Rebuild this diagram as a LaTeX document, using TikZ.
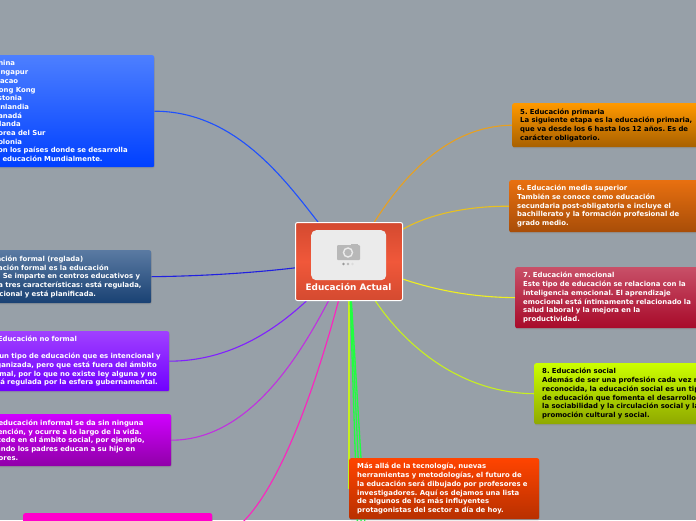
\documentclass[tikz,border=0pt]{standalone}
\usepackage{fontspec}
\setmainfont{DejaVu Sans}
\usetikzlibrary{arrows.meta,positioning,shadows,backgrounds}
\definecolor{mmback}{RGB}{151,160,168}
\definecolor{mmblue}{RGB}{30,80,255}
\definecolor{mmindigo}{RGB}{32,32,224}
\definecolor{mmviolet}{RGB}{128,32,255}
\definecolor{mmplum}{RGB}{192,48,224}
\definecolor{mmpink}{RGB}{255,32,192}
\definecolor{mmamber}{RGB}{232,160,32}
\definecolor{mmgold}{RGB}{232,192,32}
\definecolor{mmyellow}{RGB}{240,240,32}
\definecolor{mmlime}{RGB}{200,240,32}
\definecolor{mmgreen}{RGB}{32,255,64}
\definecolor{mmcoral}{RGB}{240,88,58}
\definecolor{mmcoraldark}{RGB}{212,74,48}
\definecolor{mmslatetop}{RGB}{90,122,162}
\definecolor{mmslatebot}{RGB}{25,65,115}
\definecolor{mmbluetop}{RGB}{77,127,255}
\definecolor{mmbluebot}{RGB}{0,64,255}
\definecolor{mmviolettop}{RGB}{160,64,255}
\definecolor{mmvioletbot}{RGB}{112,0,255}
\definecolor{mmplumtop}{RGB}{208,0,255}
\definecolor{mmplumbot}{RGB}{144,0,168}
\definecolor{mmpinktop}{RGB}{255,0,204}
\definecolor{mmambertop}{RGB}{255,153,0}
\definecolor{mmamberbot}{RGB}{168,96,0}
\definecolor{mmrusttop}{RGB}{232,112,16}
\definecolor{mmrustbot}{RGB}{168,77,8}
\definecolor{mmredtop}{RGB}{200,80,104}
\definecolor{mmredbot}{RGB}{168,10,42}
\definecolor{mmlimetop}{RGB}{204,255,0}
\definecolor{mmlimebot}{RGB}{143,168,0}
\definecolor{mmfiretop}{RGB}{255,68,0}
\definecolor{mmfirebot}{RGB}{184,48,0}
\begin{document}
\frenchspacing
\begin{tikzpicture}[
  x=1pt,y=-1pt,
  topic/.style={anchor=north west,rounded corners=2pt,align=left,inner xsep=8pt,inner ysep=0pt,
                font=\fontsize{6.9}{8.7}\selectfont\bfseries,text=white,
                drop shadow={shadow xshift=0.6pt,shadow yshift=-1.2pt,opacity=0.35}},
  link/.style={line width=1.1pt},
  fan/.style={line width=1.3pt,mmgreen},
]
  \useasboundingbox (0,0) rectangle (696,520);
  \clip (0,0) rectangle (696,520);

  % Central topic
  \node[anchor=north west,draw=white,line width=1pt,rounded corners=2pt,top color=mmcoraldark,bottom color=mmcoraldark,
        middle color=mmcoral,minimum width=107pt,minimum height=78pt,inner sep=0pt] (main) at (295,222) {};
  \node[anchor=north west,fill=black!8,rounded corners=5pt,minimum width=75pt,minimum height=50pt,inner sep=0pt] (photo) at (311,230) {};
  \node[font=\fontsize{8.9}{10}\selectfont\bfseries,text=white] (maintext) at (348.5,287) {Educación Actual};

  % Camera
  \fill[black!28,rounded corners=1pt] (337,245) rectangle (360,260);
  \fill[black!28] (351,243.5) rectangle (358,246);
  \node[circle,draw=black!8,line width=1.4pt,minimum size=9pt,inner sep=0pt] (lens) at (348,252.5) {};
  \fill[black!40] (343.5,264) circle (1.4);
  \fill[black!28] (348,264) circle (1.4);
  \fill[black!14] (352.5,264) circle (1.4);

  % Left topics
  \node[topic,top color=mmbluetop,bottom color=mmbluebot,text width=153pt,minimum height=112pt] (countries) at (-15,55)
    {China\\Singapur\\Macao\\Hong Kong\\Estonia\\Finlandia\\Canadá\\Irlanda\\Corea del Sur\\Polonia\\Son los países donde se desarrolla\\la educación Mundialmente.};
  \node[topic,top color=mmslatetop,bottom color=mmslatebot,text width=175pt,minimum height=53pt] (formal) at (-40,250)
    {1. Educación formal (reglada)\\La educación formal es la educación\\reglada. Se imparte en centros educativos y\\Presenta tres características: está regulada,\\es intencional y está planificada.};
  \node[topic,top color=mmviolettop,bottom color=mmvioletbot,text width=173pt,minimum height=60pt] (noformal) at (-20,331)
    {2. Educación no formal\\[8.7pt]Es un tipo de educación que es intencional y\\organizada, pero que está fuera del ámbito\\formal, por lo que no existe ley alguna y no\\está regulada por la esfera gubernamental.};
  \node[topic,top color=mmplumtop,bottom color=mmplumbot,text width=176pt,minimum height=52pt] (informal) at (-21,414)
    {La educación informal se da sin ninguna\\intención, y ocurre a lo largo de la vida.\\Sucede en el ámbito social, por ejemplo,\\cuando los padres educan a su hijo en\\valores.};
  \node[topic,top color=mmpinktop,bottom color=mmpinktop,text width=173pt,minimum height=50pt] (infantil) at (23,513)
    {4. Educación infantil\\[35pt]};

  % Right topics
  \node[topic,top color=mmambertop,bottom color=mmamberbot,text=black,text width=190pt,minimum height=44pt] (primaria) at (512,103)
    {5. Educación primaria\\La siguiente etapa es la educación primaria,\\que va desde los 6 hasta los 12 años. Es de\\carácter obligatorio.};
  \node[topic,top color=mmrusttop,bottom color=mmrustbot,text width=190pt,minimum height=52pt] (media) at (509,180)
    {6. Educación media superior\\También se conoce como educación\\secundaria post-obligatoria e incluye el\\bachillerato y la formación profesional de\\grado medio.};
  \node[topic,top color=mmredtop,bottom color=mmredbot,text width=190pt,minimum height=61pt] (emocional) at (515,267)
    {7. Educación emocional\\Este tipo de educación se relaciona con la\\inteligencia emocional. El aprendizaje\\emocional está íntimamente relacionado la\\salud laboral y la mejora en la\\productividad.};
  \node[topic,top color=mmlimetop,bottom color=mmlimebot,text=black,text width=190pt,minimum height=61pt] (social) at (534,363)
    {8. Educación social\\Además de ser una profesión cada vez más\\reconocida, la educación social es un tipo\\de educación que fomenta el desarrollo de\\la sociabilidad y la circulación social y la\\promoción cultural y social.};
  \node[topic,top color=mmfiretop,bottom color=mmfirebot,text width=174pt,minimum height=61pt] (futuro) at (349,458)
    {Más allá de la tecnología, nuevas\\herramientas y metodologías, el futuro de\\la educación será dibujado por profesores e\\investigadores. Aquí os dejamos una lista\\de algunos de los más influyentes\\protagonistas del sector a día de hoy.};

  % Free ends of the green branches
  \coordinate (fanb) at (358,540);
  \coordinate (fanc) at (362,540);
  \coordinate (fand) at (366,540);

  \begin{scope}[on background layer]
    \clip (0,0) rectangle (696,520);
    \fill[mmback] (0,0) rectangle (696,520);

    % Links left
    \draw[link,mmblue] (countries.east) .. controls (235,111) and (285,180) .. (main);
    \draw[link,mmindigo] (formal.east) .. controls (210,276) and (260,272) .. (main);
    \draw[link,mmviolet] (noformal.east) .. controls (230,361) and (275,330) .. (main);
    \draw[link,mmplum] (informal.east) .. controls (245,440) and (295,365) .. (main);
    \draw[link,mmpink] (infantil.east) .. controls (270,535) and (320,370) .. (main);

    % Links right
    \draw[link,mmamber] (primaria.west) .. controls (440,126) and (395,190) .. (main);
    \draw[link,mmgold] (media.west) .. controls (450,206) and (415,222) .. (main);
    \draw[link,mmyellow] (emocional.west) .. controls (465,297) and (430,288) .. (main);
    \draw[link,mmlime] (social.west) .. controls (460,393) and (405,345) .. (main);

    % Links down
    \draw[fan,mmlime] (main.south) -- (futuro.west);
    \draw[fan] (main) -- (fanb);
    \draw[fan] (main) -- (fanc);
    \draw[fan] (main) -- (fand);
  \end{scope}
\end{tikzpicture}
\end{document}
